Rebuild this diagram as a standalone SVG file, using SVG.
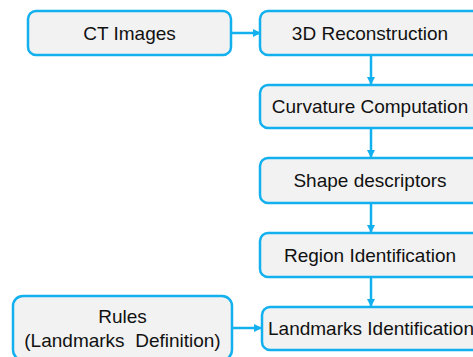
<svg xmlns="http://www.w3.org/2000/svg" width="473" height="357" viewBox="0 0 473 357">
<style>
.box{fill:#F2F2F2;stroke:#12B0EE;stroke-width:2.5}
.t{font-family:"Liberation Sans",Arial,sans-serif;font-size:19px;fill:#111;text-anchor:middle}
.c{stroke:#12B0EE;stroke-width:2.5;fill:none}
</style>
<defs>
<marker id="ah" markerWidth="8" markerHeight="8" refX="7" refY="4" orient="auto" markerUnits="userSpaceOnUse">
<path d="M0,0 L8,4 L0,8 Z" fill="#12B0EE"/>
</marker>
</defs>
<rect width="473" height="357" fill="#fff"/>
<g id="connectors">
<line class="c" x1="231" y1="33" x2="260" y2="33" marker-end="url(#ah)"/>
<line class="c" x1="371" y1="55" x2="371" y2="84" marker-end="url(#ah)"/>
<line class="c" x1="371" y1="128" x2="371" y2="157" marker-end="url(#ah)"/>
<line class="c" x1="371" y1="203" x2="371" y2="232" marker-end="url(#ah)"/>
<line class="c" x1="371" y1="277" x2="371" y2="306" marker-end="url(#ah)"/>
<line class="c" x1="232" y1="328" x2="261" y2="328" marker-end="url(#ah)"/>
</g>
<g id="ct"><rect class="box" x="28" y="11" width="203" height="44" rx="8"/><text class="t" x="129.5" y="40">CT Images</text></g>
<g id="recon"><rect class="box" x="260" y="11" width="222" height="44" rx="8"/><text class="t" x="370" y="40">3D Reconstruction</text></g>
<g id="curv"><rect class="box" x="260" y="85" width="222" height="43" rx="8"/><text class="t" x="370" y="113">Curvature Computation</text></g>
<g id="shape"><rect class="box" x="260" y="158" width="222" height="45" rx="8"/><text class="t" x="370" y="187">Shape descriptors</text></g>
<g id="region"><rect class="box" x="260" y="233" width="222" height="44" rx="8"/><text class="t" x="370" y="262">Region Identification</text></g>
<g id="landmarks"><rect class="box" x="262" y="307" width="222" height="43" rx="8"/><text class="t" x="371" y="335">Landmarks Identification</text></g>
<g id="rules"><rect class="box" x="13" y="296" width="219" height="64" rx="10"/><text class="t" x="122.5" y="323">Rules</text><text class="t" x="122.5" y="347" xml:space="preserve">(Landmarks  Definition)</text></g>
</svg>
